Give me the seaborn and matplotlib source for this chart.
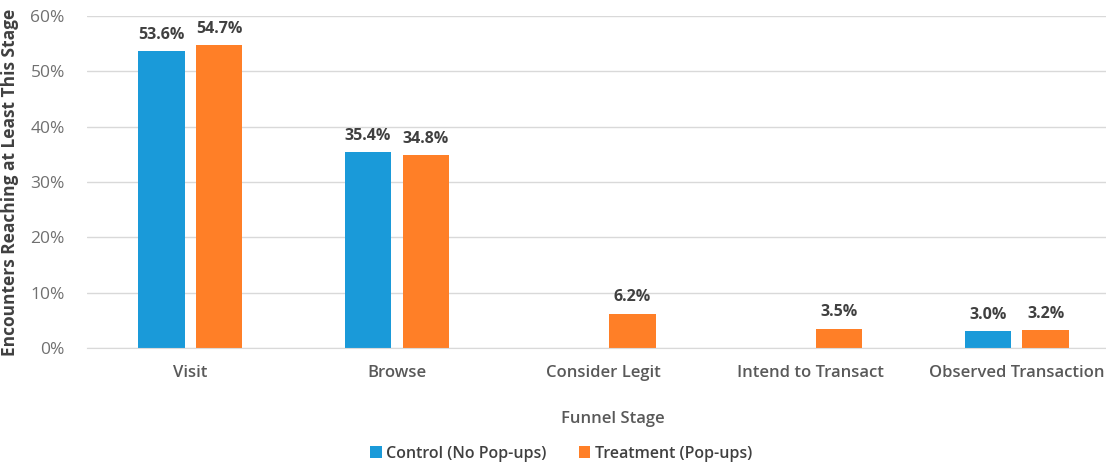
import numpy as np
import pandas as pd
import seaborn as sns
import matplotlib.pyplot as plt

stages = ['Visit', 'Browse', 'Consider Legit', 'Intend to Transact', 'Observed Transaction']
control = [53.6, 35.4, np.nan, np.nan, 3.0]
treatment = [54.7, 34.8, 6.2, 3.5, 3.2]
groups = ['Control (No Pop-ups)', 'Treatment (Pop-ups)']
colors = ['#1A9AD9', '#FF7F27']

df = pd.DataFrame({
    'stage': stages * 2,
    'group': [groups[0]] * len(stages) + [groups[1]] * len(stages),
    'value': control + treatment,
})

sns.set_style('white')
plt.rcParams['font.family'] = ['Open Sans', 'DejaVu Sans']

fig = plt.figure(figsize=(11.06, 4.63), dpi=100)
ax = fig.add_axes([87 / 1106, 115 / 463, 1033 / 1106, 332 / 463])

sns.barplot(data=df, x='stage', y='value', hue='group', palette=colors,
            width=0.56, gap=0.2, order=stages, hue_order=groups,
            saturation=1, linewidth=0, ax=ax)

for cont in ax.containers:
    labels = ['' if np.isnan(v) else '%.1f%%' % v for v in cont.datavalues]
    ax.bar_label(cont, labels=labels, padding=6, fontsize=11.5,
                 fontweight='bold', color='#404040')

ax.set_ylim(0, 60)
ax.set_xlim(-0.5, 4.5)
ax.set_yticks(range(0, 61, 10))
ax.set_yticklabels(['%d%%' % t for t in range(0, 61, 10)])
ax.yaxis.grid(True, color='#D9D9D9', linewidth=1)
ax.set_axisbelow(True)
for s in ['top', 'right', 'left']:
    ax.spines[s].set_visible(False)
ax.spines['bottom'].set_color('#D9D9D9')
ax.tick_params(axis='y', length=0, labelsize=12.5, labelcolor='#707070', pad=16)
ax.tick_params(axis='x', length=0, labelsize=12, labelcolor='#595959', pad=12)
for lab in ax.get_xticklabels():
    lab.set_fontweight('semibold')

ax.set_xlabel('Funnel Stage', fontsize=12, fontweight='semibold', color='#595959')
ax.xaxis.set_label_coords(0.509, -0.19)
ax.set_ylabel('Encounters Reaching at Least This Stage', fontsize=12.5,
              fontweight='bold', color='#404040', labelpad=8)

ax.legend(loc='center', bbox_to_anchor=(0.459, -0.318), ncol=2,
          frameon=False, handlelength=0.7, handleheight=0.7,
          columnspacing=2.0, handletextpad=0.3, labelcolor='#404040',
          prop={'weight': 'semibold', 'size': 11.5})

fig.savefig('out.png', dpi=100)
